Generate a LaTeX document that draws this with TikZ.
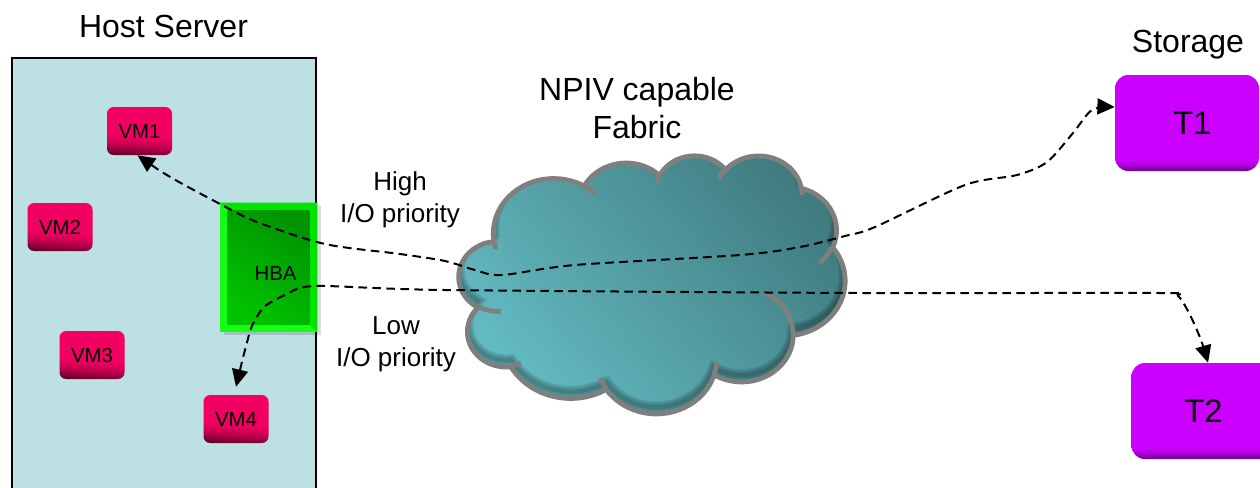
\documentclass[tikz,border=0pt]{standalone}
\usepackage{fontspec}
\setmainfont{Liberation Sans}
\usetikzlibrary{arrows.meta,shadows}

\definecolor{hostfill}{RGB}{188,224,227}
\definecolor{vmlight}{RGB}{240,0,96}
\definecolor{vmmid}{RGB}{195,0,78}
\definecolor{vmdark}{RGB}{105,0,40}
\definecolor{tlight}{RGB}{204,0,255}
\definecolor{tmid}{RGB}{170,0,215}
\definecolor{tdark}{RGB}{110,0,140}
\definecolor{cloudlight}{RGB}{100,188,195}
\definecolor{clouddark}{RGB}{64,124,128}
\definecolor{cloudline}{RGB}{127,127,127}
\definecolor{hbaframe}{RGB}{20,255,20}
\definecolor{hbaframedk}{RGB}{0,228,0}
\definecolor{hbalight}{RGB}{0,195,0}
\definecolor{hbadark}{RGB}{0,148,0}

% bevelled fills of the VM and storage boxes (dark lower edge)
\pgfdeclareverticalshading{vmshade}{100bp}{color(0bp)=(vmdark); color(25bp)=(vmdark); color(35bp)=(vmmid); color(44bp)=(vmlight); color(100bp)=(vmlight)}
\pgfdeclareverticalshading{tshade}{100bp}{color(0bp)=(tdark); color(25bp)=(tdark); color(28bp)=(tmid); color(31bp)=(tlight); color(100bp)=(tlight)}

% ray angle of an ellipse -> parameter angle (keeps the same turn)
\makeatletter
\pgfmathdeclarefunction{vang}{3}{%
  \begingroup
    \pgfmathparse{atan2((#2)*sin(#1),(#3)*cos(#1))}\let\va@t\pgfmathresult
    \pgfmathparse{\va@t-(#1)}\let\va@d\pgfmathresult
    \pgfmathparse{(#1)+\va@d-360*round(\va@d/360)}%
    \pgfmath@smuggleone\pgfmathresult
  \endgroup}
\makeatother

% elliptic arc: x radius, y radius, start ray angle, sweep
\newcommand\cloudarc[4]{arc[x radius=#1,y radius=#2,start angle={vang(#3,#1,#2)},end angle={vang(#3+#4,#1,#2)}]}

% cloud outline in a 4320 x 4320 frame
\newcommand\cloudoutline{(390,1437)
  \cloudarc{675.3}{919.0}{-190.4875}{123.7805}
  \cloudarc{533.3}{726.7}{-144.1024}{89.9452}
  \cloudarc{436.5}{594.5}{-145.8079}{99.7230}
  \cloudarc{485.7}{659.5}{-130.9861}{117.2417}
  \cloudarc{533.3}{727.3}{-78.7089}{109.0269}
  \cloudarc{677.5}{922.0}{-46.2673}{130.2690}
  \cloudarc{578.5}{786.7}{0.6250}{114.0333}
  \cloudarc{675.2}{921.5}{22.4516}{115.1726}
  \cloudarc{772.0}{1054.3}{66.2426}{75.7110}
  \cloudarc{436.0}{591.8}{-274.9421}{146.7356}
  \cloudarc{434.5}{594.5}{-246.8285}{152.5189}
  -- cycle}

% short inner arcs where the puffs overlap
\newcommand\cloudcreases{%
  (469.3,2617.7) \cloudarc{434.5}{594.5}{86.7420}{26.4295}
  (692.8,3489.9) \cloudarc{436.0}{591.8}{73.6105}{11.4475}
  (1647.8,3909.0) \cloudarc{675.2}{921.5}{137.6242}{14.0811}
  (2882.7,3475.1) \cloudarc{675.2}{921.5}{6.4533}{15.9984}
  (3412.9,2295.4) \cloudarc{578.5}{786.7}{-70.2924}{70.9174}
  (4179.8,1535.4) \cloudarc{533.3}{727.3}{30.3180}{27.7515}
  (3832.4,542.6) \cloudarc{485.7}{659.5}{-13.7443}{14.8589}
  (2907.8,395.2) \cloudarc{485.7}{659.5}{-149.1815}{18.1954}
  (2214.1,472.0) \cloudarc{436.5}{594.5}{-163.4943}{17.6864}
  (1400.0,519.2) \cloudarc{675.3}{919.0}{-66.7070}{12.3194}
  (412.7,1578.9) \cloudarc{675.3}{919.0}{157.6544}{11.8582}}

\tikzset{
  hostbox/.style={draw=black, line width=1.5pt, fill=hostfill, minimum width=228pt, minimum height=331.5pt, inner sep=0pt},
  vmbox/.style={rounded corners=5pt, minimum width=48.75pt, minimum height=36pt, inner sep=0pt, shade, shading=vmshade, shading angle=-4, font=\fontsize{15.3}{18}\selectfont},
  storebox/.style={rounded corners=10pt, minimum width=108pt, minimum height=72pt, inner sep=0pt, shade, shading=tshade, font=\fontsize{24.5}{28}\selectfont},
  hbabox/.style={fill=hbaframe, minimum width=72.75pt, minimum height=96.75pt, inner sep=0pt,
    drop shadow={shadow xshift=3pt, shadow yshift=-2.5pt, opacity=0.14, fill=black}},
  boxlabel/.style={inner sep=0pt, font=\fontsize{15.3}{18}\selectfont},
  bigtitle/.style={inner sep=0pt, align=center, font=\fontsize{24}{28.5}\selectfont},
  prio/.style={inner sep=0pt, align=center, font=\fontsize{19.5}{24}\selectfont},
  crease/.style={draw=cloudline, line width=3.6pt},
  link/.style={{Triangle[length=13pt,width=12pt]}-{Triangle[length=13pt,width=12pt]}, line width=1.5pt, dash pattern=on 6.5pt off 4pt}
}

\begin{document}
\begin{tikzpicture}[x=0.75pt, y=-0.75pt]
  \clip (0,0) rectangle (1260,487);
  \fill[white] (0,0) rectangle (1260,487);

  % host server
  \node[hostbox] (host) at (164,279) {};
  \node[bigtitle, anchor=base] (hosttitle) at (163.5,37) {Host Server};

  \node[vmbox] (vm1) at (139.5,131) {VM1};
  \node[vmbox] (vm2) at (60,227) {VM2};
  \node[vmbox] (vm3) at (92,355) {VM3};
  \node[vmbox] (vm4) at (236,419) {VM4};

  % host bus adapter with bevelled frame
  \node[hbabox] (hba) at (268.5,267.5) {};
  \fill[hbaframedk] (hba.north west) -- (hba.north east) -- ([xshift=-6pt,yshift=-6pt]hba.north east) -- ([xshift=6pt,yshift=-6pt]hba.north west) -- cycle;
  \fill[hbaframedk] (hba.north east) -- (hba.south east) -- ([xshift=-6pt,yshift=6pt]hba.south east) -- ([xshift=-6pt,yshift=-6pt]hba.north east) -- cycle;
  \shade[top color=hbadark, bottom color=hbalight, shading angle=-35] ([xshift=6pt,yshift=-6pt]hba.north west) rectangle ([xshift=-6pt,yshift=6pt]hba.south east);
  \node[boxlabel] (hbatext) at (275.5,273.5) {HBA};

  % fabric cloud
  \begin{scope}[shift={(459,155)}, x=0.0670139pt, y=-0.0447917pt]
    \shade[top color=clouddark, bottom color=cloudlight, shading angle=-50] \cloudoutline;
    \begin{scope}
      \clip \cloudoutline;
      \foreach \w in {3,6,9} {\draw[line width=\w pt, black, opacity=0.11, yshift=5pt] \cloudoutline;}
    \end{scope}
    \draw[crease] \cloudoutline;
    \draw[crease] \cloudcreases;
  \end{scope}
  \node[bigtitle, anchor=north] (fabrictitle) at (637,77) {NPIV capable\\Fabric};

  % storage targets
  \node[bigtitle, anchor=base] (storagetitle) at (1188,52) {Storage};
  \node[storebox] (t1) at (1187,123) {\hspace*{8pt}T1};
  \node[storebox] (t2) at (1203.5,411) {T2};

  % priority labels
  \node[prio, anchor=north] (highlabel) at (400,171) {High\\I/O priority};
  \node[prio, anchor=north] (lowlabel) at (396,316) {Low\\I/O priority};

  % I/O paths
  \draw[link] plot[smooth, tension=0.5] coordinates {
    ([xshift=-1.5pt]vm1.south) (172,178) (222,205) (257,222) (325,244) (400,254)
    (445,261) (475,270) (502,275) (575,265) (740,255) (800,247) (845,236) (875,227)
    (965,185) (1017,175) (1047,162) (1073,133) (1092,110) ([yshift=12pt]t1.west)};
  \draw[link] plot[smooth, tension=0.45] coordinates {
    ([yshift=6pt]vm4.north) (245,350) (252,326) (264,307) (285,295) (315,286)
    (445,290) (860,293) (1160,293) (1178,296) (1190,315) (1201,340) ([xshift=3.4pt]t2.north)};
\end{tikzpicture}
\end{document}
